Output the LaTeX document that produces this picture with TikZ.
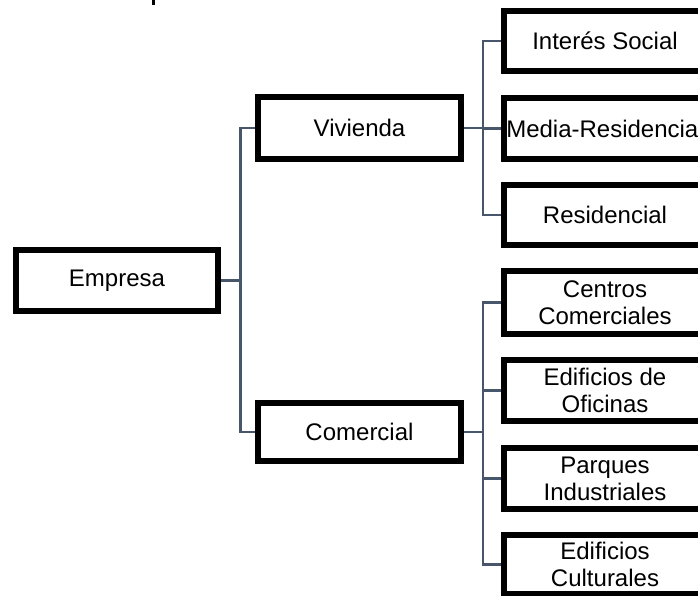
\documentclass[tikz,border=0pt]{standalone}
\usepackage{fontspec}
\setmainfont{Liberation Sans}
\usetikzlibrary{backgrounds}
\definecolor{linkgray}{RGB}{72,86,108}
\begin{document}
\begin{tikzpicture}[x=1pt,y=-1pt,
  box/.style={draw=black, line width=6pt, fill=white, inner sep=0pt,
    minimum width=203pt, minimum height=61pt, align=center,
    font=\fontsize{24}{27}\selectfont},
  link/.style={draw=linkgray, line width=2.2pt}]
  \clip (0,0) rectangle (698,596);

  % small dark mark at the top edge
  \fill[black] (151.5,0) rectangle (154.5,5);

  % boxes
  \node[box, minimum width=202pt] (emp) at (117,280.5) {Empresa};
  \node[box, minimum height=62pt] (viv) at (359.5,128) {Vivienda};
  \node[box, minimum height=58pt] (com) at (359.5,432) {Comercial};

  \node[box, minimum height=60pt] (ints) at (605,40.8) {Interés Social};
  \node[box] (med) at (605,128.5) {Media-Residencial};
  \node[box, minimum height=60pt] (res) at (605,215) {Residencial};

  \node[box, minimum height=63pt] (cen) at (605,302.5) {Centros\\Comerciales};
  \node[box] (ofi) at (605,390.5) {Edificios de\\Oficinas};
  \node[box] (par) at (605,478.5) {Parques\\Industriales};
  \node[box, minimum height=59pt] (cul) at (605,564.5) {Edificios\\Culturales};

  % bus lines
  \coordinate (busA) at (240.5,0);
  \coordinate (busB) at (482.7,0);

  \begin{pgfonlayer}{background}
    \draw[link] (emp.east) -- (emp.east -| busA);
    \draw[link] (viv.west) -- (viv.west -| busA) -- (com.west -| busA) -- (com.west);

    \draw[link] (viv.east) -- (viv.east -| busB);
    \draw[link] (ints.west) -- (ints.west -| busB) -- (res.west -| busB) -- (res.west);
    \draw[link] (med.west) -- (med.west -| busB);

    \draw[link] (com.east) -- (com.east -| busB);
    \draw[link] (cen.west) -- (cen.west -| busB) -- (cul.west -| busB) -- (cul.west);
    \draw[link] (ofi.west) -- (ofi.west -| busB);
    \draw[link] (par.west) -- (par.west -| busB);
  \end{pgfonlayer}
\end{tikzpicture}
\end{document}
